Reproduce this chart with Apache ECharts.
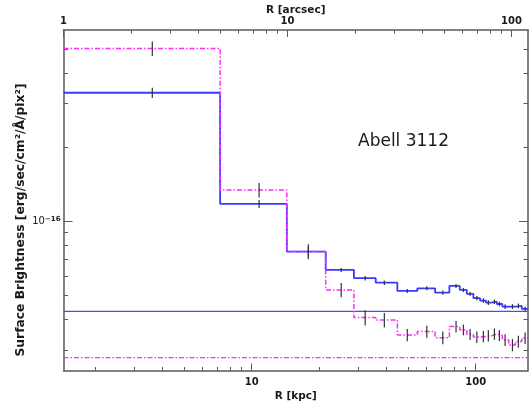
<!DOCTYPE html>
<html><head><meta charset="utf-8">
<script src="https://cdn.jsdelivr.net/npm/echarts@6/dist/echarts.min.js"></script>
<style>html,body{margin:0;padding:0;background:#fff}#c{width:531px;height:411px}</style>
</head><body><div id="c"></div>
<script>
// ---- data (surface brightness in units of 1e-17 erg/sec/cm^2/A/pix^2) ----
const UNIT = 1e-17;
const binEdgesKpc = [1.445, 7.23, 14.35, 21.4, 28.6, 35.8, 44.7, 54.9, 65.9, 76.3, 84.9, 91.3, 97.7, 104.6, 111.1, 117.5, 124.3, 131.5, 140.5, 150.4, 160.6, 171.2];
const binCentersKpc = [3.60, 10.79, 17.9, 25.1, 32.1, 39.1, 49.5, 60.5, 71.3, 81.7, 88.1, 94.4, 101.2, 108.2, 113.9, 121.2, 127.6, 135.3, 145.9, 155.1, 166.2];
const blueValues = [33.2, 11.77, 7.55, 6.36, 5.89, 5.65, 5.23, 5.36, 5.15, 5.48, 5.28, 5.09, 4.89, 4.78, 4.69, 4.73, 4.63, 4.52, 4.52, 4.55, 4.42];
const blueErrors = [1.6, 0.45, 0.35, 0.12, 0.12, 0.12, 0.1, 0.1, 0.1, 0.1, 0.1, 0.1, 0.1, 0.1, 0.1, 0.1, 0.1, 0.1, 0.1, 0.1, 0.1];
const magentaValues = [50.2, 13.41, 7.55, 5.28, 4.08, 3.99, 3.47, 3.58, 3.38, 3.75, 3.64, 3.49, 3.40, 3.42, 3.44, 3.50, 3.45, 3.31, 3.16, 3.26, 3.37];
const magentaErrors = [3.4, 0.9, 0.53, 0.35, 0.29, 0.27, 0.2, 0.2, 0.2, 0.2, 0.18, 0.18, 0.18, 0.18, 0.18, 0.18, 0.18, 0.18, 0.18, 0.18, 0.18];
const blueBackground = 4.32;
const magentaBackground = 2.81;
const xRangeKpc = [1.445, 171.2];
const xRangeArcsec = [1, 118.5];
const yRange = [2.49e-17, 5.96e-16];
const kpcMajorTicks = [10, 100];
const kpcMinorTicks = [2, 3, 4, 5, 6, 7, 8, 9, 20, 30, 40, 50, 60, 70, 80, 90];
const arcsecMajorTicks = [1, 10, 100];
const arcsecMinorTicks = [2, 3, 4, 5, 6, 7, 8, 9, 20, 30, 40, 50, 60, 70, 80, 90];
const yMajorTicks = [1e-16];
const yMinorTicks = [3e-17, 4e-17, 5e-17, 6e-17, 7e-17, 8e-17, 9e-17, 2e-16, 3e-16, 4e-16, 5e-16];
const annotation = 'Abell 3112';
const yTitle = 'Surface Brightness [erg/sec/cm\u00b2/\u00c5/pix\u00b2]';

// ---- build ----
function steps(vals) {
  const pts = [];
  vals.forEach((v, i) => { pts.push([binEdgesKpc[i], v * UNIT]); pts.push([binEdgesKpc[i + 1], v * UNIT]); });
  return pts;
}
function flat(v) { return [[xRangeKpc[0], v * UNIT], [xRangeKpc[1], v * UNIT]]; }
function errBars(vals, errs) {
  return vals.map((v, i) => [binCentersKpc[i], (v - errs[i]) * UNIT, (v + errs[i]) * UNIT]);
}
const FONT = 'DejaVu Sans';
const AX = '#5a5a5a';
const TXT = '#1a1a1a';
const lblStyle = { color: TXT, fontFamily: FONT, fontSize: 10, fontWeight: 'bold' };
function xAxisDef(grid, pos, range, ticks, len, labelVals, margin, extra) {
  return Object.assign({
    type: 'log', logBase: 10, gridIndex: grid, position: pos, min: range[0], max: range[1],
    axisLine: { show: grid === 0, lineStyle: { color: AX, width: 1.5 } },
    axisTick: { show: true, inside: true, length: len, customValues: ticks, lineStyle: { color: AX, width: 1 } },
    axisLabel: labelVals ? Object.assign({ customValues: labelVals, margin: margin, formatter: v => String(Math.round(v)) }, lblStyle) : { show: false },
    splitLine: { show: false }
  }, extra || {});
}
function yAxisDef(grid, pos, ticks, len, labelVals) {
  return {
    type: 'log', logBase: 10, gridIndex: grid, position: pos, min: yRange[0], max: yRange[1],
    axisLine: { show: grid === 0, lineStyle: { color: AX, width: 1.5 } },
    axisTick: { show: true, inside: true, length: len, customValues: ticks, lineStyle: { color: AX, width: 1 } },
    axisLabel: labelVals ? {
      customValues: labelVals, margin: 3, formatter: () => '{b|10}{s|\u221216}',
      rich: { b: { fontFamily: FONT, fontSize: 10, color: TXT },
              s: { fontFamily: FONT, fontSize: 7, fontWeight: 'bold', color: TXT, verticalAlign: 'top', padding: [0, 0, 4, 0] } }
    } : { show: false },
    splitLine: { show: false }
  };
}
const gridRect = { left: 63.5, right: 3, top: 30, bottom: 40.5, outerBoundsMode: 'none', containLabel: false };
const nameStyle = { color: TXT, fontFamily: FONT, fontSize: 10.5, fontWeight: 'bold' };

const option = {
  animation: false,
  backgroundColor: '#fff',
  grid: [Object.assign({}, gridRect), Object.assign({}, gridRect)],
  xAxis: [
    xAxisDef(0, 'bottom', xRangeKpc, kpcMajorTicks, 7, kpcMajorTicks, 7,
      { name: 'R [kpc]', nameLocation: 'middle', nameGap: 20, nameMoveOverlap: false, nameTextStyle: nameStyle }),
    xAxisDef(0, 'top', xRangeArcsec, arcsecMajorTicks, 7, arcsecMajorTicks, 4,
      { name: 'R [arcsec]', nameLocation: 'middle', nameGap: 14, nameMoveOverlap: false, nameTextStyle: nameStyle }),
    xAxisDef(1, 'bottom', xRangeKpc, kpcMinorTicks, 3.5, null, 0),
    xAxisDef(1, 'top', xRangeArcsec, arcsecMinorTicks, 3.5, null, 0)
  ],
  yAxis: [
    yAxisDef(0, 'left', yMajorTicks, 9, yMajorTicks),
    yAxisDef(0, 'right', yMajorTicks, 9, null),
    yAxisDef(1, 'left', yMinorTicks, 4.5, null),
    yAxisDef(1, 'right', yMinorTicks, 4.5, null)
  ],
  graphic: [
    { type: 'text', left: 358, top: 133, style: { text: annotation, font: '17px "DejaVu Sans"', fill: TXT } },
    { type: 'text', x: 21, y: 220, rotation: Math.PI / 2,
      style: { text: yTitle, font: 'bold 12.3px "DejaVu Sans"', fill: TXT, align: 'center', verticalAlign: 'middle' } }
  ],
  series: [
    { type: 'line', xAxisIndex: 0, yAxisIndex: 0, data: flat(blueBackground), symbol: 'none', z: 2,
      lineStyle: { color: '#4a4aff', width: 1.4 } },
    { type: 'line', xAxisIndex: 0, yAxisIndex: 0, data: flat(magentaBackground), symbol: 'none', z: 2,
      lineStyle: { color: '#ff2bff', width: 1.3, type: [5, 2, 1.5, 2] } },
    { type: 'line', xAxisIndex: 0, yAxisIndex: 0, data: steps(blueValues), symbol: 'none', z: 3,
      lineStyle: { color: '#3a3aff', width: 1.8 } },
    { type: 'line', xAxisIndex: 0, yAxisIndex: 0, data: steps(magentaValues), symbol: 'none', z: 4,
      lineStyle: { color: '#ff2bff', width: 1.5, type: [5, 2, 1.5, 2] } },
    { type: 'custom', xAxisIndex: 0, yAxisIndex: 0, z: 6, data: errBars(blueValues, blueErrors).concat(errBars(magentaValues, magentaErrors)),
      renderItem: (params, api) => {
        const p1 = api.coord([api.value(0), api.value(1)]);
        const p2 = api.coord([api.value(0), api.value(2)]);
        return { type: 'line', shape: { x1: p1[0], y1: p1[1], x2: p2[0], y2: p2[1] }, style: { stroke: '#333', lineWidth: 1.2 } };
      } }
  ]
};
const chart = echarts.init(document.getElementById('c'), null, { renderer: 'canvas' });
chart.setOption(option);
</script></body></html>
